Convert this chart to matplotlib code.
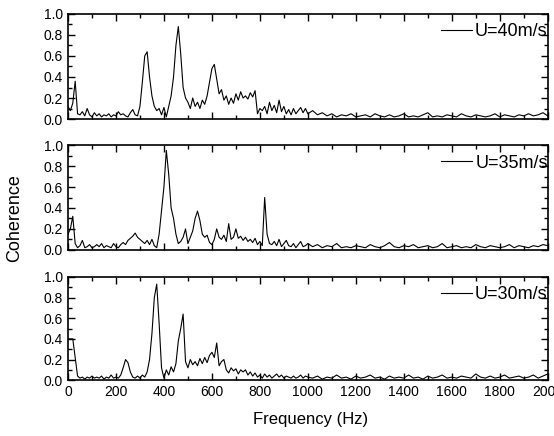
import numpy as np
import matplotlib
matplotlib.use("Agg")
import matplotlib.pyplot as plt
from matplotlib.ticker import MultipleLocator

plt.rcParams['font.family'] = ['Liberation Sans', 'DejaVu Sans']

# frequency grid: 10 Hz steps up to 1 kHz, 20 Hz steps above
freq = np.concatenate([np.arange(0, 1001, 10), np.arange(1020, 2001, 20)])

coh_40 = [
    0.12, 0.08, 0.15, 0.36, 0.05, 0.04, 0.07, 0.03, 0.10, 0.04,
    0.02, 0.06, 0.03, 0.05, 0.02, 0.04, 0.03, 0.05, 0.02, 0.04,
    0.03, 0.07, 0.04, 0.05, 0.03, 0.02, 0.06, 0.09, 0.04, 0.03,
    0.12, 0.35, 0.60, 0.64, 0.40, 0.22, 0.12, 0.08, 0.10, 0.04,
    0.11, 0.02, 0.12, 0.22, 0.40, 0.70, 0.88, 0.62, 0.30, 0.20,
    0.16, 0.10, 0.20, 0.12, 0.16, 0.10, 0.18, 0.14, 0.22, 0.35,
    0.48, 0.52, 0.38, 0.24, 0.28, 0.18, 0.22, 0.14, 0.20, 0.15,
    0.24, 0.18, 0.26, 0.20, 0.22, 0.19, 0.25, 0.21, 0.27, 0.05,
    0.10, 0.08, 0.12, 0.05, 0.16, 0.08, 0.13, 0.06, 0.18, 0.07,
    0.12, 0.05, 0.09, 0.04, 0.10, 0.05, 0.08, 0.11, 0.06, 0.10, 0.05,
    0.08, 0.04, 0.06, 0.03, 0.05, 0.02, 0.04, 0.03, 0.05, 0.02,
    0.03, 0.04, 0.02, 0.05, 0.03, 0.02, 0.04, 0.02, 0.03, 0.05,
    0.02, 0.03, 0.02, 0.04, 0.06, 0.02, 0.03, 0.02, 0.04, 0.03,
    0.02, 0.05, 0.03, 0.02, 0.04, 0.03, 0.02, 0.03, 0.05, 0.02,
    0.04, 0.03, 0.02, 0.04, 0.03, 0.05, 0.03, 0.04, 0.06, 0.03,
]

coh_35 = [
    0.15, 0.20, 0.32, 0.06, 0.02, 0.04, 0.09, 0.02, 0.03, 0.05,
    0.02, 0.03, 0.05, 0.03, 0.06, 0.02, 0.04, 0.03, 0.02, 0.06,
    0.03, 0.02, 0.05, 0.07, 0.05, 0.09, 0.11, 0.13, 0.16, 0.12,
    0.10, 0.08, 0.06, 0.09, 0.05, 0.10, 0.04, 0.02, 0.15, 0.38,
    0.60, 0.95, 0.72, 0.40, 0.30, 0.15, 0.06, 0.08, 0.12, 0.20,
    0.06, 0.12, 0.18, 0.30, 0.37, 0.28, 0.15, 0.12, 0.14, 0.07,
    0.05, 0.10, 0.20, 0.12, 0.10, 0.14, 0.08, 0.25, 0.10, 0.12,
    0.20, 0.11, 0.13, 0.09, 0.12, 0.08, 0.10, 0.07, 0.11, 0.05,
    0.08, 0.04, 0.50, 0.15, 0.06, 0.05, 0.08, 0.04, 0.10, 0.03,
    0.06, 0.09, 0.04, 0.03, 0.06, 0.02, 0.05, 0.08, 0.03, 0.04, 0.06,
    0.03, 0.05, 0.02, 0.04, 0.03, 0.06, 0.02, 0.03, 0.02, 0.04,
    0.03, 0.02, 0.05, 0.03, 0.02, 0.04, 0.07, 0.03, 0.02, 0.04,
    0.03, 0.05, 0.02, 0.03, 0.04, 0.02, 0.03, 0.06, 0.02, 0.03,
    0.04, 0.02, 0.03, 0.02, 0.05, 0.03, 0.02, 0.04, 0.03, 0.02,
    0.03, 0.05, 0.02, 0.04, 0.03, 0.02, 0.04, 0.03, 0.05, 0.04,
]

coh_30 = [
    0.40, 0.40, 0.40, 0.22, 0.04, 0.02, 0.03, 0.01, 0.03, 0.02,
    0.04, 0.02, 0.03, 0.02, 0.04, 0.01, 0.03, 0.02, 0.05, 0.02,
    0.03, 0.02, 0.05, 0.12, 0.20, 0.17, 0.08, 0.03, 0.02, 0.04,
    0.02, 0.05, 0.03, 0.08, 0.20, 0.45, 0.80, 0.93, 0.55, 0.12,
    0.02, 0.10, 0.05, 0.13, 0.08, 0.16, 0.38, 0.50, 0.64, 0.18,
    0.12, 0.20, 0.15, 0.18, 0.14, 0.21, 0.16, 0.22, 0.17, 0.24,
    0.27, 0.22, 0.36, 0.14, 0.18, 0.20, 0.10, 0.07, 0.12, 0.09,
    0.11, 0.06, 0.10, 0.08, 0.10, 0.05, 0.08, 0.04, 0.07, 0.03,
    0.05, 0.02, 0.06, 0.03, 0.05, 0.02, 0.04, 0.06, 0.03, 0.05,
    0.02, 0.04, 0.03, 0.02, 0.04, 0.02, 0.03, 0.05, 0.02, 0.04, 0.03,
    0.02, 0.04, 0.01, 0.03, 0.02, 0.05, 0.02, 0.03, 0.01, 0.04,
    0.02, 0.03, 0.05, 0.02, 0.03, 0.01, 0.04, 0.02, 0.03, 0.02,
    0.05, 0.02, 0.03, 0.01, 0.04, 0.02, 0.03, 0.05, 0.02, 0.03,
    0.02, 0.04, 0.03, 0.02, 0.06, 0.03, 0.02, 0.04, 0.02, 0.03,
    0.05, 0.02, 0.03, 0.04, 0.02, 0.03, 0.05, 0.02, 0.04, 0.06,
]

series = [coh_40, coh_35, coh_30]
labels = ['U=40m/s', 'U=35m/s', 'U=30m/s']

fig = plt.figure(figsize=(5.54, 4.36), dpi=100)

# panel boxes in figure fractions (left, bottom, width, height)
boxes = [
    (0.1227, 0.727, 0.866, 0.241),
    (0.1227, 0.427, 0.866, 0.240),
    (0.1227, 0.128, 0.866, 0.237),
]

for i, (vals, lab, box) in enumerate(zip(series, labels, boxes)):
    ax = fig.add_axes(box)
    ax.plot(freq, vals, color='black', linewidth=0.8, label=lab)
    ax.set_xlim(0, 2000)
    ax.set_ylim(0, 1.0)
    ax.xaxis.set_major_locator(MultipleLocator(200))
    ax.xaxis.set_minor_locator(MultipleLocator(100))
    ax.yaxis.set_major_locator(MultipleLocator(0.2))
    ax.yaxis.set_minor_locator(MultipleLocator(0.1))
    ax.yaxis.set_major_formatter(plt.FormatStrFormatter('%.1f'))
    ax.tick_params(which='both', direction='in', top=True, right=True,
                   labelsize=10, width=1.0)
    ax.tick_params(which='major', length=5)
    ax.tick_params(which='minor', length=3)
    for sp in ax.spines.values():
        sp.set_linewidth(1.2)
    if i < 2:
        ax.tick_params(labelbottom=False)
    ax.legend(loc='upper right', bbox_to_anchor=(1.0, 0.91), frameon=False,
              fontsize=13, handlelength=1.7, handletextpad=0.2,
              borderaxespad=0.0, borderpad=0.0)

fig.text(0.027, 0.5, 'Coherence', rotation=90, ha='center', va='center',
         fontsize=13)
fig.text(0.56, 0.037, 'Frequency (Hz)', ha='center', va='center', fontsize=12)

fig.savefig('out.png', dpi=100)
